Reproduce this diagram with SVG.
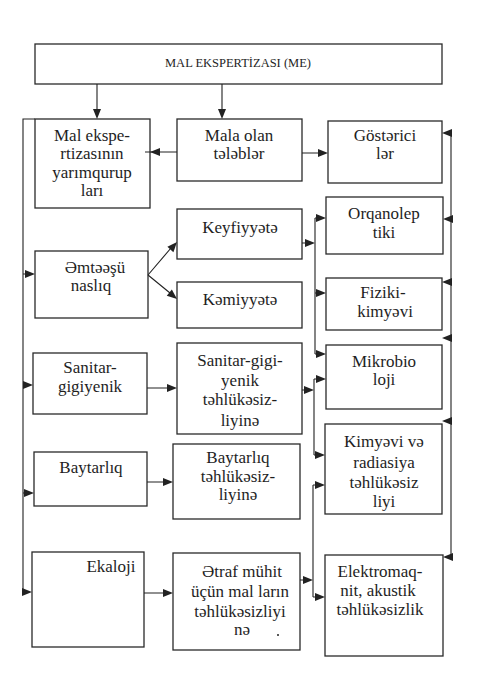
<svg xmlns="http://www.w3.org/2000/svg" width="481" height="675" viewBox="0 0 481 675">
<style>
  .bx { fill: #fff; stroke: #2a2a2a; stroke-width: 1.3; }
  .ln { fill: none; stroke: #222; stroke-width: 1.1; }
  .hd { fill: #222; }
</style>
<defs>
  <path id="ah" d="M-10,-4 L0,0 L-10,4 z"/>
</defs>
<rect width="481" height="675" fill="#fff"/>

<g id="n-me">
  <rect class="bx" x="35" y="44" width="407" height="40"/>
  <text font-family="Liberation Serif" font-size="12.5" fill="#1e1e1e" text-anchor="middle" x="238" y="67">MAL EKSPERTİZASI (ME)</text>
</g>

<g id="n-yarimqrup">
  <rect class="bx" x="35" y="119" width="115" height="89"/>
  <text font-family="Liberation Serif" font-size="17" fill="#1e1e1e" text-anchor="middle" x="92" y="141">Mal ekspe-</text>
  <text font-family="Liberation Serif" font-size="17" fill="#1e1e1e" text-anchor="middle" x="92" y="159">rtizasının</text>
  <text font-family="Liberation Serif" font-size="17" fill="#1e1e1e" text-anchor="middle" x="92" y="178">yarımqurup</text>
  <text font-family="Liberation Serif" font-size="17" fill="#1e1e1e" text-anchor="middle" x="92" y="196">ları</text>
</g>
<g id="n-telebler">
  <rect class="bx" x="177" y="119" width="125" height="62"/>
  <text font-family="Liberation Serif" font-size="17" fill="#1e1e1e" text-anchor="middle" x="239" y="141">Mala olan</text>
  <text font-family="Liberation Serif" font-size="17" fill="#1e1e1e" text-anchor="middle" x="239" y="159">tələblər</text>
</g>
<g id="n-gostericiler">
  <rect class="bx" x="328" y="121" width="114" height="62"/>
  <text font-family="Liberation Serif" font-size="17" fill="#1e1e1e" text-anchor="middle" x="385" y="141">Göstərici</text>
  <text font-family="Liberation Serif" font-size="17" fill="#1e1e1e" text-anchor="middle" x="385" y="159">lər</text>
</g>

<g id="n-emteesunasliq">
  <rect class="bx" x="35" y="251" width="113" height="67"/>
  <text font-family="Liberation Serif" font-size="17" fill="#1e1e1e" text-anchor="middle" x="95" y="273">Əmtəəşü</text>
  <text font-family="Liberation Serif" font-size="17" fill="#1e1e1e" text-anchor="middle" x="91" y="291">naslıq</text>
</g>
<g id="n-keyfiyyete">
  <rect class="bx" x="177" y="209" width="125" height="50"/>
  <text font-family="Liberation Serif" font-size="17" fill="#1e1e1e" text-anchor="middle" x="240" y="233">Keyfiyyətə</text>
</g>
<g id="n-kemiyyete">
  <rect class="bx" x="177" y="282" width="125" height="46"/>
  <text font-family="Liberation Serif" font-size="17" fill="#1e1e1e" text-anchor="middle" x="240" y="305">Kəmiyyətə</text>
</g>
<g id="n-orqanoleptiki">
  <rect class="bx" x="326" y="197" width="117" height="57"/>
  <text font-family="Liberation Serif" font-size="17" fill="#1e1e1e" text-anchor="middle" x="384" y="219">Orqanolep</text>
  <text font-family="Liberation Serif" font-size="17" fill="#1e1e1e" text-anchor="middle" x="384" y="238">tiki</text>
</g>
<g id="n-fiziki">
  <rect class="bx" x="326" y="278" width="116" height="52"/>
  <text font-family="Liberation Serif" font-size="17" fill="#1e1e1e" text-anchor="middle" x="383" y="298">Fiziki-</text>
  <text font-family="Liberation Serif" font-size="17" fill="#1e1e1e" text-anchor="middle" x="385" y="317">kimyəvi</text>
</g>

<g id="n-sanitar">
  <rect class="bx" x="33" y="353" width="114" height="61"/>
  <text font-family="Liberation Serif" font-size="17" fill="#1e1e1e" text-anchor="middle" x="90" y="373">Sanitar-</text>
  <text font-family="Liberation Serif" font-size="17" fill="#1e1e1e" text-anchor="middle" x="90" y="392">gigiyenik</text>
</g>
<g id="n-sanitar-teh">
  <rect class="bx" x="177" y="343" width="125" height="91"/>
  <text font-family="Liberation Serif" font-size="17" fill="#1e1e1e" text-anchor="middle" x="240" y="366">Sanitar-gigi-</text>
  <text font-family="Liberation Serif" font-size="17" fill="#1e1e1e" text-anchor="middle" x="240" y="386">yenik</text>
  <text font-family="Liberation Serif" font-size="17" fill="#1e1e1e" text-anchor="middle" x="240" y="405">təhlükəsiz-</text>
  <text font-family="Liberation Serif" font-size="17" fill="#1e1e1e" text-anchor="middle" x="240" y="426">liyinə</text>
</g>
<g id="n-mikrobio">
  <rect class="bx" x="326" y="345" width="116" height="64"/>
  <text font-family="Liberation Serif" font-size="17" fill="#1e1e1e" text-anchor="middle" x="384" y="367">Mikrobio</text>
  <text font-family="Liberation Serif" font-size="17" fill="#1e1e1e" text-anchor="middle" x="384" y="385">loji</text>
</g>

<g id="n-baytarliq">
  <rect class="bx" x="34" y="452" width="113" height="54"/>
  <text font-family="Liberation Serif" font-size="17" fill="#1e1e1e" text-anchor="middle" x="91" y="473">Baytarlıq</text>
</g>
<g id="n-baytarliq-teh">
  <rect class="bx" x="173" y="444" width="127" height="75"/>
  <text font-family="Liberation Serif" font-size="17" fill="#1e1e1e" text-anchor="middle" x="238" y="463">Baytarlıq</text>
  <text font-family="Liberation Serif" font-size="17" fill="#1e1e1e" text-anchor="middle" x="238" y="482">təhlükəsiz-</text>
  <text font-family="Liberation Serif" font-size="17" fill="#1e1e1e" text-anchor="middle" x="238" y="500">liyinə</text>
</g>
<g id="n-kimyevi">
  <rect class="bx" x="325" y="424" width="117" height="90"/>
  <text font-family="Liberation Serif" font-size="17" fill="#1e1e1e" text-anchor="middle" x="384" y="447">Kimyəvi və</text>
  <text font-family="Liberation Serif" font-size="17" fill="#1e1e1e" text-anchor="middle" x="384" y="468">radiasiya</text>
  <text font-family="Liberation Serif" font-size="17" fill="#1e1e1e" text-anchor="middle" x="384" y="488">təhlükəsiz</text>
  <text font-family="Liberation Serif" font-size="17" fill="#1e1e1e" text-anchor="middle" x="384" y="507">liyi</text>
</g>

<g id="n-ekaloji">
  <rect class="bx" x="32" y="552" width="112" height="95"/>
  <text font-family="Liberation Serif" font-size="17" fill="#1e1e1e" text-anchor="middle" x="111" y="572">Ekaloji</text>
</g>
<g id="n-etraf">
  <rect class="bx" x="173" y="553" width="127" height="97"/>
  <text font-family="Liberation Serif" font-size="17" fill="#1e1e1e" text-anchor="middle" x="242" y="577">Ətraf mühit</text>
  <text font-family="Liberation Serif" font-size="17" fill="#1e1e1e" text-anchor="middle" x="240" y="597">üçün mal ların</text>
  <text font-family="Liberation Serif" font-size="17" fill="#1e1e1e" text-anchor="middle" x="240" y="617">təhlükəsizliyi</text>
  <text font-family="Liberation Serif" font-size="17" fill="#1e1e1e" text-anchor="middle" x="242" y="635">nə</text>
  <circle cx="278" cy="635" r="1" fill="#222"/>
</g>
<g id="n-elektromaqnit">
  <rect class="bx" x="325" y="555" width="118" height="101"/>
  <text font-family="Liberation Serif" font-size="17" fill="#1e1e1e" text-anchor="middle" x="380" y="577">Elektromaq-</text>
  <text font-family="Liberation Serif" font-size="17" fill="#1e1e1e" text-anchor="middle" x="378" y="596">nit, akustik</text>
  <text font-family="Liberation Serif" font-size="17" fill="#1e1e1e" text-anchor="middle" x="380" y="615">təhlükəsizlik</text>
</g>

<g id="connectors">
  <path class="ln" d="M97,84 V112 M222,84 V112 M177,152 H145 M302,153 H320 M148,275 L171,248 M148,275 L170,293 M147,388 H170 M147,482 H166 M144,593 H166 M35,119 H23 V592 H25 M23,274 H28 M23,385 H26 M23,493 H27 M451,133 V557 M451,133 H448 M451,219 H448 M451,282 H448 M451,338 H448 M451,421 H448 M451,557 H448 M302,243 H308 M315,218 V354 M315,218 H318 M315,293 H318 M315,354 H318 M302,390 H307 M314,379 V455 M314,379 H318 M314,455 H318 M300,580 H306 M313,485 V597 M313,485 H318 M313,597 H318"/>
  <g class="hd">
    <use href="#ah" transform="translate(97,119) rotate(90)"/>
    <use href="#ah" transform="translate(222,119) rotate(90)"/>
    <use href="#ah" transform="translate(150,152) rotate(180)"/>
    <use href="#ah" transform="translate(328,153)"/>
    <use href="#ah" transform="translate(177,242) rotate(-48.7)"/>
    <use href="#ah" transform="translate(177,299) rotate(39.6)"/>
    <use href="#ah" transform="translate(177,388)"/>
    <use href="#ah" transform="translate(173,482)"/>
    <use href="#ah" transform="translate(173,593)"/>
    <use href="#ah" transform="translate(35,274)"/>
    <use href="#ah" transform="translate(33,385)"/>
    <use href="#ah" transform="translate(34,493)"/>
    <use href="#ah" transform="translate(32,592)"/>
    <use href="#ah" transform="translate(442,133) rotate(180)"/>
    <use href="#ah" transform="translate(443,219) rotate(180)"/>
    <use href="#ah" transform="translate(442,282) rotate(180)"/>
    <use href="#ah" transform="translate(442,338) rotate(180)"/>
    <use href="#ah" transform="translate(442,421) rotate(180)"/>
    <use href="#ah" transform="translate(443,557) rotate(180)"/>
    <use href="#ah" transform="translate(315,243)"/>
    <use href="#ah" transform="translate(326,218)"/>
    <use href="#ah" transform="translate(326,293)"/>
    <use href="#ah" transform="translate(326,354)"/>
    <use href="#ah" transform="translate(314,390)"/>
    <use href="#ah" transform="translate(326,379)"/>
    <use href="#ah" transform="translate(325,455)"/>
    <use href="#ah" transform="translate(313,580)"/>
    <use href="#ah" transform="translate(325,485)"/>
    <use href="#ah" transform="translate(325,597)"/>
  </g>
</g>
</svg>
